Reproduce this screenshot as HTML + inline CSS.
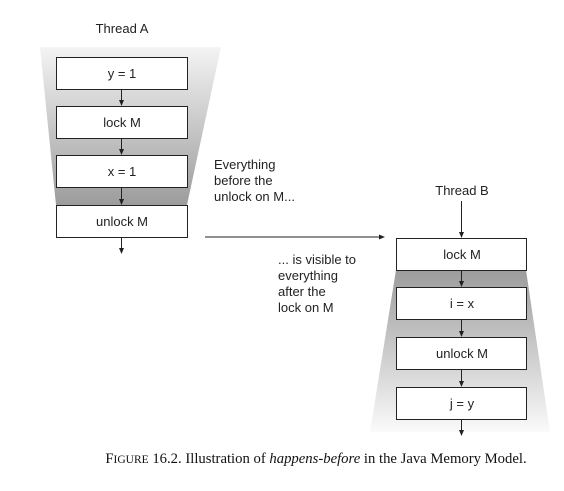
<!DOCTYPE html>
<html><head><meta charset="utf-8"><style>
body{margin:0;background:#fff;width:564px;height:486px;overflow:hidden}
</style></head><body>
<svg width="564" height="486" viewBox="0 0 564 486" xmlns="http://www.w3.org/2000/svg" font-family="Liberation Sans, sans-serif">
<defs>
<linearGradient id="ga" x1="0" y1="0" x2="0" y2="1"><stop offset="0" stop-color="#f4f4f4"/><stop offset="1" stop-color="#9c9c9c"/></linearGradient>
<linearGradient id="gb" x1="0" y1="0" x2="0" y2="1"><stop offset="0" stop-color="#9c9c9c"/><stop offset="1" stop-color="#fafafa"/></linearGradient>
<marker id="ar" markerWidth="6" markerHeight="6" refX="5" refY="3" orient="auto"><path d="M0,0.5 L6,3 L0,5.5z" fill="#222"/></marker>
</defs>
<polygon points="40,47 221,47 187,205 56,205" fill="url(#ga)"/>
<polygon points="396,270 526,270 550,432 370,432" fill="url(#gb)"/>
<g stroke="#222" stroke-width="1" fill="none" marker-end="url(#ar)">
<line x1="121.5" y1="89" x2="121.5" y2="105"/>
<line x1="121.5" y1="138" x2="121.5" y2="154"/>
<line x1="121.5" y1="187" x2="121.5" y2="204"/>
<line x1="121.5" y1="237" x2="121.5" y2="253"/>
<line x1="205" y1="237" x2="384" y2="237"/>
<line x1="461.5" y1="201" x2="461.5" y2="237"/>
<line x1="461.5" y1="270" x2="461.5" y2="286"/>
<line x1="461.5" y1="319" x2="461.5" y2="336"/>
<line x1="461.5" y1="369" x2="461.5" y2="386"/>
<line x1="461.5" y1="419" x2="461.5" y2="435"/>
</g>
<g fill="#fff" stroke="#222" stroke-width="1">
<rect x="56.5" y="57.5" width="131" height="32"/>
<rect x="56.5" y="106.5" width="131" height="32"/>
<rect x="56.5" y="155.5" width="131" height="32"/>
<rect x="56.5" y="205.5" width="131" height="32"/>
<rect x="396.5" y="238.5" width="130" height="32"/>
<rect x="396.5" y="287.5" width="130" height="32"/>
<rect x="396.5" y="337.5" width="130" height="32"/>
<rect x="396.5" y="387.5" width="130" height="32"/>
</g>
<g font-size="13" fill="#222" text-anchor="middle">
<text x="122" y="33">Thread A</text>
<text x="122" y="78">y = 1</text>
<text x="122" y="127">lock M</text>
<text x="122" y="176">x = 1</text>
<text x="122" y="226">unlock M</text>
<text x="462" y="195">Thread B</text>
<text x="462" y="259">lock M</text>
<text x="462" y="308">i = x</text>
<text x="462" y="358">unlock M</text>
<text x="462" y="408">j = y</text>
</g>
<g font-size="13" fill="#222">
<text><tspan x="214" y="169">Everything</tspan><tspan x="214" y="185">before the</tspan><tspan x="214" y="201">unlock on M...</tspan></text>
<text><tspan x="278" y="264">... is visible to</tspan><tspan x="278" y="280">everything</tspan><tspan x="278" y="296">after the</tspan><tspan x="278" y="312">lock on M</tspan></text>
</g>
<text x="316" y="463" text-anchor="middle" font-family="Liberation Serif, serif" font-size="14.7" fill="#111">F<tspan font-size="11.5">IGURE</tspan> 16.2. Illustration of <tspan font-style="italic">happens-before</tspan> in the Java Memory Model.</text>
</svg>
</body></html>
